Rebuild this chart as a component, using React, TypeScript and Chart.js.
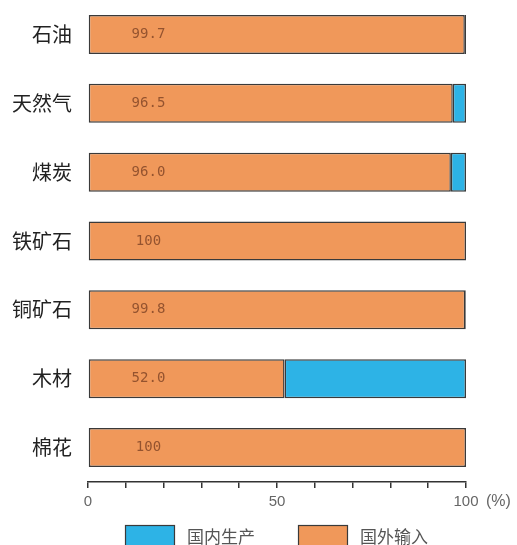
import React, { useEffect, useRef } from "react";
import { Chart, registerables } from "chart.js";

Chart.register(...registerables);

const categories = ["石油", "天然气", "煤炭", "铁矿石", "铜矿石", "木材", "棉花"];
const importValues = [99.7, 96.5, 96.0, 100, 99.8, 52.0, 100];
const domesticValues = [0.3, 3.5, 4.0, 0, 0.2, 48.0, 0];
const valueLabels = ["99.7", "96.5", "96.0", "100", "99.8", "52.0", "100"];
const seriesNames = { domestic: "国内生产", imported: "国外输入" };
const xTickLabels = ["0", "50", "100"];
const unitLabel = "(%)";

const ORANGE = "#F0985A";
const BLUE = "#2DB3E6";
const BORDER = "#3a3a3a";

const overlayPlugin = {
  id: "overlay",
  afterDatasetsDraw(chart: any) {
    const ctx = chart.ctx;
    const xs = chart.scales.x;
    const meta = chart.getDatasetMeta(0);
    ctx.save();
    ctx.font = "14px 'DejaVu Sans Mono', monospace";
    ctx.fillStyle = "#94532f";
    ctx.textAlign = "center";
    ctx.textBaseline = "middle";
    meta.data.forEach((bar: any, i: number) => {
      ctx.fillText(valueLabels[i], xs.getPixelForValue(16), bar.y);
    });
    ctx.restore();
  },
  afterDraw(chart: any) {
    const ctx = chart.ctx;
    const xs = chart.scales.x;
    ctx.save();
    ctx.font = "16px 'Liberation Sans', Arial, sans-serif";
    ctx.fillStyle = "#666";
    ctx.textAlign = "left";
    ctx.textBaseline = "middle";
    ctx.fillText(unitLabel, xs.getPixelForValue(100) + 20, chart.chartArea.bottom + 20);

    const items = [...chart.data.datasets].reverse();
    let x = 125;
    const y = 525;
    ctx.font = "17px 'Noto Sans CJK SC', sans-serif";
    items.forEach((ds: any) => {
      ctx.fillStyle = ds.backgroundColor;
      ctx.fillRect(x, y, 50, 24);
      ctx.strokeStyle = BORDER;
      ctx.lineWidth = 1.2;
      ctx.strokeRect(x + 0.5, y + 0.5, 49, 23);
      ctx.fillStyle = "#555";
      ctx.textAlign = "left";
      ctx.textBaseline = "middle";
      ctx.fillText(ds.label, x + 62, y + 12);
      const tw = ctx.measureText(ds.label).width;
      x = Math.max(x + 62 + tw + 43, 298);
    });
    ctx.restore();
  },
};

export default function App() {
  const ref = useRef<HTMLCanvasElement | null>(null);
  useEffect(() => {
    if (!ref.current) return;
    const chart = new Chart(ref.current, {
      type: "bar",
      data: {
        labels: categories,
        datasets: [
          {
            label: seriesNames.imported,
            data: importValues,
            backgroundColor: ORANGE,
            borderColor: BORDER,
            borderWidth: 1.5,
            borderSkipped: false,
          },
          {
            label: seriesNames.domestic,
            data: domesticValues,
            backgroundColor: BLUE,
            borderColor: BORDER,
            borderWidth: 1.5,
            borderSkipped: false,
          },
        ],
      },
      options: {
        indexAxis: "y",
        responsive: true,
        maintainAspectRatio: false,
        animation: false,
        datasets: { bar: { barPercentage: 0.566, categoryPercentage: 1 } },
        layout: { padding: { top: 0, right: 51, left: 0, bottom: 0 } },
        plugins: { legend: { display: false }, tooltip: { enabled: false } },
        scales: {
          x: {
            stacked: true,
            min: 0,
            max: 100,
            afterFit: (s: any) => {
              s.height = 63;
            },
            ticks: {
              stepSize: 10,
              autoSkip: false,
              maxRotation: 0,
              padding: 5,
              color: "#666",
              font: { family: "'Liberation Sans', Arial, sans-serif", size: 15 },
              callback: (v: any) => {
                const s = String(v);
                return xTickLabels.includes(s) ? s : "";
              },
            },
            grid: { drawOnChartArea: false, drawTicks: true, tickLength: 6, color: "#333", lineWidth: 1.5 },
            border: { display: true, color: "#333", width: 1.5 },
          },
          y: {
            stacked: true,
            afterFit: (s: any) => {
              s.width = 88;
              s.paddingTop = 0;
              s.paddingBottom = 0;
            },
            ticks: {
              padding: 16,
              color: "#222",
              font: { family: "'Noto Sans CJK SC', serif", size: 20 },
            },
            grid: { display: false, drawTicks: false },
            border: { display: false },
          },
        },
      },
      plugins: [overlayPlugin],
    });
    return () => chart.destroy();
  }, []);
  return (
    <div style={{ position: "absolute", left: 0, top: 0, width: 517, height: 545, background: "#fff" }}>
      <canvas ref={ref} />
    </div>
  );
}
